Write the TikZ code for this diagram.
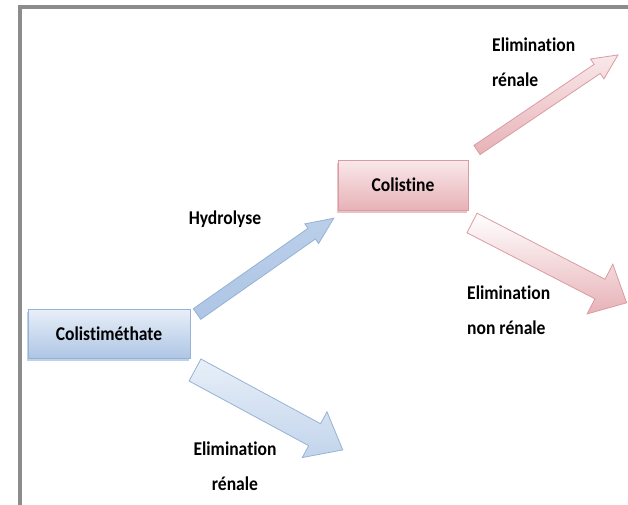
\documentclass[tikz,border=0pt]{standalone}
\usepackage{fontspec}
\setmainfont[Ligatures=NoCommon, FakeStretch=0.9]{Carlito}
\usetikzlibrary{shadows}
\definecolor{frameg}{HTML}{8C8C8C}
\definecolor{bluetop}{HTML}{E8EFF8}
\definecolor{bluebot}{HTML}{AEC6E5}
\definecolor{blueline}{HTML}{96B2D6}
\definecolor{pinktop}{HTML}{F9E8EA}
\definecolor{pinkbot}{HTML}{E7B2B7}
\definecolor{pinkline}{HTML}{D99CA2}
\tikzset{
  lbl/.style={font=\fontsize{19.5}{35}\selectfont\bfseries, inner sep=0pt},
  bluebox/.style={lbl, draw=blueline, top color=bluetop, bottom color=bluebot,
    minimum width=162pt, minimum height=49pt,
    drop shadow={shadow xshift=-1pt, shadow yshift=-2.5pt, fill=blueline, opacity=.6}},
  pinkbox/.style={lbl, draw=pinkline, top color=pinktop, bottom color=pinkbot,
    minimum width=130pt, minimum height=50pt,
    drop shadow={shadow xshift=-1pt, shadow yshift=-2.5pt, fill=pinkline, opacity=.6}}
}
% block arrow: style, tail, angle, length, half shaft, half head, head length
\newcommand{\blockarrow}[7]{%
  \begin{scope}[shift={(#2)}, rotate=#3]
    \draw[#1] (0,-#5) -- ({#4-#7},-#5) -- ({#4-#7},-#6) -- (#4,0)
      -- ({#4-#7},#6) -- ({#4-#7},#5) -- (0,#5) -- cycle;
  \end{scope}}
\begin{document}
\begin{tikzpicture}[x=1pt, y=-1pt]
    \useasboundingbox (0,0) rectangle (628,505);
    \draw[frameg, line width=4pt] (20,505) -- (20,7) -- (628,7);
    \node[bluebox] (cms) at (109,333.5) {Colistiméthate};
    \node[pinkbox] (col) at (403,185) {Colistine};
    % tails of the arrows
    \coordinate (hydtail) at (197,314);
    \coordinate (cmstail) at (195,370);
    \coordinate (coltail) at (477,150);
    \coordinate (nrtail) at (472,223);
    \blockarrow{draw=blueline, line width=.8pt, top color=bluebot!85, bottom color=bluebot}{hydtail}{35}{167}{6.5}{12}{27}
    \blockarrow{draw=blueline, line width=.8pt, top color=bluetop, bottom color=bluebot!75}{cmstail}{-28.4}{168}{12.5}{26}{32}
    \blockarrow{draw=pinkline, line width=.8pt, top color=pinktop, bottom color=pinkbot}{coltail}{34}{170}{5.5}{12}{25}
    \blockarrow{draw=pinkline, line width=.8pt, top color=white, bottom color=pinkbot}{nrtail}{-27.3}{174}{11}{28}{30}
    \node[lbl] (hyd) at (225,219) {Hydrolyse};
    \node[lbl, align=left, anchor=west] (elimr) at (492,62) {Elimination\\rénale};
    \node[lbl, align=left, anchor=west] (elimnr) at (467,310) {Elimination\\non rénale};
    \node[lbl, align=center] (elimcms) at (235,466) {Elimination\\rénale};
\end{tikzpicture}
\end{document}
